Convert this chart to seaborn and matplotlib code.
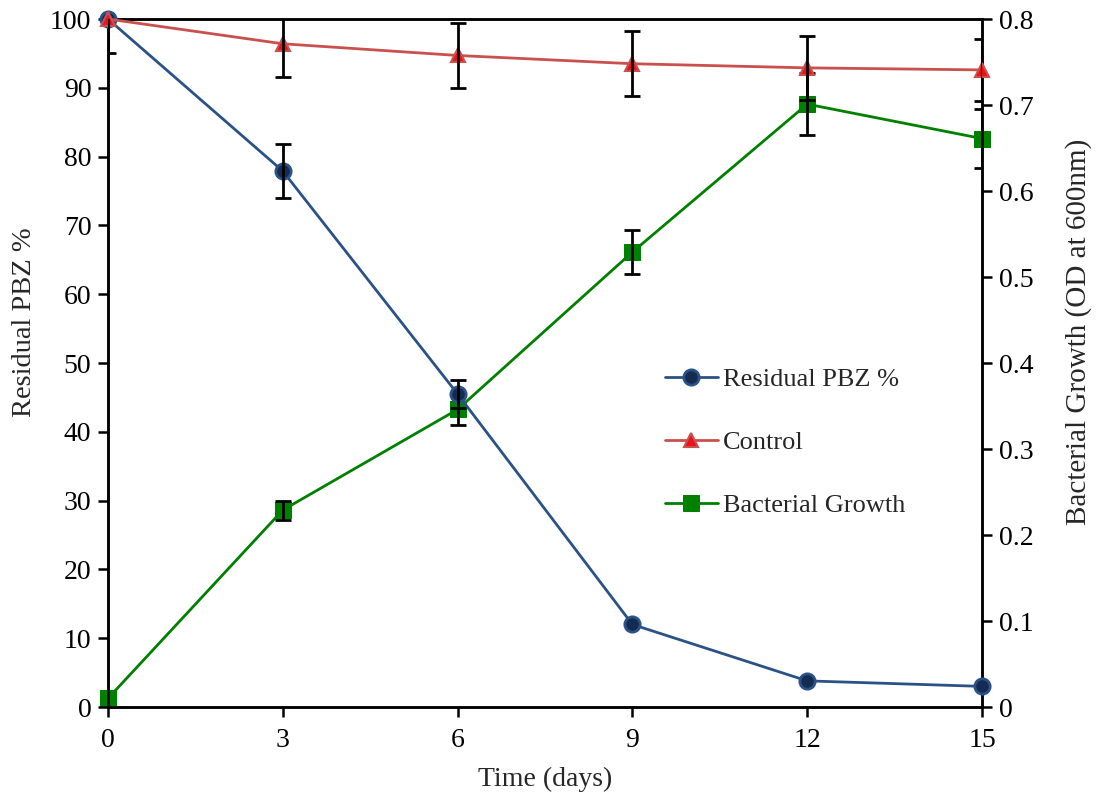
import matplotlib
matplotlib.use("Agg")
import matplotlib.pyplot as plt
import seaborn as sns
import pandas as pd
import numpy as np

days = [0, 3, 6, 9, 12, 15]
residual_pbz = [100, 77.9, 45.5, 12.0, 3.8, 3.0]
residual_err = [0, 3.9, 2.1, 0, 0, 0]
control = [100, 96.4, 94.7, 93.5, 92.9, 92.6]
control_err = [4.9, 4.8, 4.7, 4.7, 4.6, 4.5]
growth = [0.010, 0.229, 0.346, 0.529, 0.701, 0.661]
growth_err = [0, 0.011, 0.018, 0.026, 0.036, 0.034]
x_ticks = [0, 3, 6, 9, 12, 15]
left_ticks = [0, 10, 20, 30, 40, 50, 60, 70, 80, 90, 100]
right_ticks = [0, 0.1, 0.2, 0.3, 0.4, 0.5, 0.6, 0.7, 0.8]
right_labels = ["0", "0.1", "0.2", "0.3", "0.4", "0.5", "0.6", "0.7", "0.8"]

df = pd.DataFrame({"day": days, "residual": residual_pbz, "control": control, "growth": growth})

sns.set_style("ticks")
plt.rcParams["font.family"] = ["Liberation Serif", "DejaVu Serif"]
plt.rcParams["font.size"] = 19

fig = plt.figure(figsize=(11.04, 7.92), dpi=100)
ax = fig.add_axes([0.0978, 0.1073, 0.7917, 0.8687])
ax2 = ax.twinx()

blue = "#2b5286"
red_line = "#c9504d"
green = "#008000"

sns.lineplot(data=df, x="day", y="residual", ax=ax, color=blue, lw=2,
             marker="o", markersize=11, markerfacecolor="#142c52",
             markeredgecolor=blue, markeredgewidth=2, label="Residual PBZ %", legend=False,
             zorder=3, clip_on=False)
sns.lineplot(data=df, x="day", y="control", ax=ax, color=red_line, lw=2,
             marker="^", markersize=10, markerfacecolor="#e8141a",
             markeredgecolor=red_line, markeredgewidth=1.5, label="Control", legend=False,
             zorder=3, clip_on=False)
sns.lineplot(data=df, x="day", y="growth", ax=ax2, color=green, lw=2,
             marker="s", markersize=12, markerfacecolor=green,
             markeredgecolor=green, label="Bacterial Growth", legend=False, zorder=3,
             clip_on=False)


def draw_err(a, xs, ys, es):
    sel = [i for i, e in enumerate(es) if e > 0]
    a.errorbar([xs[i] for i in sel], [ys[i] for i in sel], yerr=[es[i] for i in sel],
               fmt="none", ecolor="black", elinewidth=2, capsize=6, capthick=2, zorder=5)


draw_err(ax, days, residual_pbz, residual_err)
draw_err(ax, days, control, control_err)
draw_err(ax2, days, growth, growth_err)

ax.set_xlim(0, 15)
ax.set_ylim(0, 100)
ax2.set_ylim(0, 0.8)
ax.set_xticks(x_ticks)
ax.set_yticks(left_ticks)
ax2.set_yticks(right_ticks)
ax2.set_yticklabels(right_labels)

ax.set_xlabel("Time (days)", fontsize=20, labelpad=10)
ax.set_ylabel("Residual PBZ %", fontsize=20.5, va="center")
ax2.set_ylabel("Bacterial Growth (OD at 600nm)", fontsize=21, va="center")
ax.yaxis.set_label_coords(-0.095, 0.56)
ax2.yaxis.set_label_coords(1.11, 0.545)

for a in (ax, ax2):
    for s in a.spines.values():
        s.set_visible(True)
        s.set_linewidth(1.8)
        s.set_color("black")
    a.tick_params(axis="both", direction="out", length=7, width=1.8, labelsize=20, colors="black")
ax.tick_params(axis="x", pad=8)
ax.tick_params(axis="y", pad=5)
ax2.tick_params(axis="y", pad=5)

h1, l1 = ax.get_legend_handles_labels()
h2, l2 = ax2.get_legend_handles_labels()
ax.legend(h1 + h2, l1 + l2, loc="center left", bbox_to_anchor=(0.61, 0.385),
          frameon=False, fontsize=19, labelspacing=1.5, handlelength=2.0, handletextpad=0.2)

ax.set_zorder(ax2.get_zorder() + 1)
ax.patch.set_visible(False)

fig.savefig("out.png", dpi=100)
